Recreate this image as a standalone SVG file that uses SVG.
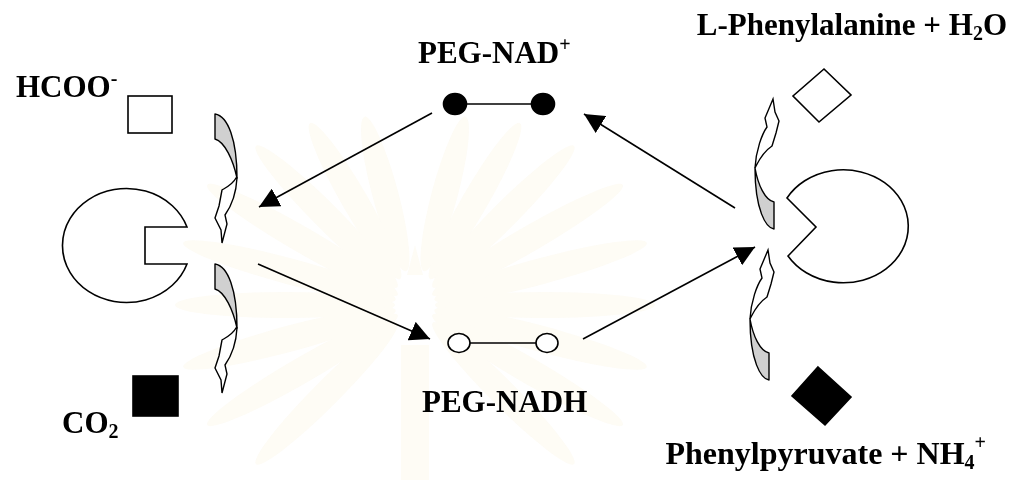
<svg xmlns="http://www.w3.org/2000/svg" xmlns:xlink="http://www.w3.org/1999/xlink" width="1019" height="480" viewBox="0 0 1019 480">
<style>
  .lbl { font-family: "Liberation Serif", "Times New Roman", serif; font-weight: bold; font-size: 31px; fill: #000; }
  .big { font-size: 32px; }
  .sub { font-size: 20px; }
  .ln { fill: none; stroke: #000; stroke-width: 1.6; }
  .shape { fill: #fff; stroke: #000; stroke-width: 1.6; stroke-linejoin: miter; }
  .solid { fill: #000; stroke: #000; stroke-width: 1.6; }
  .gray { fill: #d0d0d0; stroke: #000; stroke-width: 1.4; stroke-linejoin: round; }
  .white { fill: #fff; stroke: #000; stroke-width: 1.4; stroke-linejoin: miter; }
  .ray { fill: #faf3de; }
</style>
<defs>
  <marker id="ah" markerUnits="userSpaceOnUse" markerWidth="20" markerHeight="20" refX="20" refY="10" orient="auto" viewBox="0 0 20 20">
    <path d="M0,0 L20,10 L0,20 Z" fill="#000"/>
  </marker>
  <g id="curvL">
    <path class="gray" d="M215,114 C228,116 237,140 237,178 C233,160 225,142 215,139 Z"/>
    <path class="white" d="M237,178 C236,196 230,208 225,215 L227,224 L222,243 L221,230 L215,218 L219,206 L222,190 C227,187 233,184 236,178 Z"/>
  </g>
  <g id="curvR">
    <path class="gray" d="M774,229 C766,228 755,210 755,168 C758,185 765,200 774,202 Z"/>
    <path class="white" d="M755,168 C756,150 762,134 767,127 L765,118 L773,99 L775,112 L779,121 L776,133 L772,146 C766,150 760,158 756,166 Z"/>
  </g>
</defs>
<rect width="1019" height="480" fill="#fff"/>
<g id="watermark" opacity="0.3">
  <g transform="translate(415,305)">
    <ellipse class="ray" cx="130" cy="0" rx="110" ry="13" transform="rotate(0)"/>
    <ellipse class="ray" cx="130" cy="0" rx="110" ry="13" transform="rotate(-15)"/>
    <ellipse class="ray" cx="130" cy="0" rx="110" ry="13" transform="rotate(-30)"/>
    <ellipse class="ray" cx="125" cy="0" rx="100" ry="13" transform="rotate(-45)"/>
    <ellipse class="ray" cx="120" cy="0" rx="90" ry="13" transform="rotate(-60)"/>
    <ellipse class="ray" cx="115" cy="0" rx="80" ry="13" transform="rotate(-75)"/>
    <ellipse class="ray" cx="115" cy="0" rx="80" ry="13" transform="rotate(-105)"/>
    <ellipse class="ray" cx="120" cy="0" rx="90" ry="13" transform="rotate(-120)"/>
    <ellipse class="ray" cx="125" cy="0" rx="100" ry="13" transform="rotate(-135)"/>
    <ellipse class="ray" cx="130" cy="0" rx="110" ry="13" transform="rotate(-150)"/>
    <ellipse class="ray" cx="130" cy="0" rx="110" ry="13" transform="rotate(-165)"/>
    <ellipse class="ray" cx="130" cy="0" rx="110" ry="13" transform="rotate(180)"/>
    <ellipse class="ray" cx="130" cy="0" rx="110" ry="13" transform="rotate(15)"/>
    <ellipse class="ray" cx="130" cy="0" rx="110" ry="13" transform="rotate(30)"/>
    <ellipse class="ray" cx="125" cy="0" rx="100" ry="13" transform="rotate(45)"/>
    <ellipse class="ray" cx="125" cy="0" rx="100" ry="13" transform="rotate(135)"/>
    <ellipse class="ray" cx="130" cy="0" rx="110" ry="13" transform="rotate(150)"/>
    <ellipse class="ray" cx="130" cy="0" rx="110" ry="13" transform="rotate(165)"/>
    <path class="ray" d="M-8,-30 L0,-60 L8,-30 Z"/>
    <rect class="ray" x="-14" y="40" width="28" height="135"/>
  </g>
</g>

<g id="connectors">
  <line class="ln" x1="432" y1="113" x2="259" y2="207" marker-end="url(#ah)"/>
  <line class="ln" x1="258" y1="264" x2="430" y2="339" marker-end="url(#ah)"/>
  <line class="ln" x1="583" y1="339" x2="755" y2="247" marker-end="url(#ah)"/>
  <line class="ln" x1="735" y1="208" x2="584" y2="114" marker-end="url(#ah)"/>
</g>

<g id="enzyme-left">
  <path class="shape" d="M187,227 A64,57 0 1 0 187,264 L145,264 L145,227 Z"/>
</g>
<g id="enzyme-right">
  <path class="shape" d="M787,198 L816,227 L788,256 A65,56.5 0 1 0 787,198 Z"/>
</g>

<g id="curved-arrow-left-top"><use xlink:href="#curvL" href="#curvL"/></g>
<g id="curved-arrow-left-bottom"><use xlink:href="#curvL" href="#curvL" transform="translate(0,150)"/></g>
<g id="curved-arrow-right-top"><use xlink:href="#curvR" href="#curvR"/></g>
<g id="curved-arrow-right-bottom"><use xlink:href="#curvR" href="#curvR" transform="translate(-5,151)"/></g>

<g id="hcoo">
  <rect class="shape" x="128" y="96" width="44" height="37"/>
  <text class="lbl" x="16" y="97">HCOO<tspan class="sub" dy="-12">-</tspan></text>
</g>
<g id="co2">
  <rect class="solid" x="133" y="376" width="45" height="40"/>
  <text class="lbl" x="62" y="433">CO<tspan class="sub" dy="5">2</tspan></text>
</g>
<g id="phenylalanine">
  <polygon class="shape" points="824,69 851,95 819,122 793,96"/>
  <text class="lbl" x="1007" y="35" text-anchor="end">L-Phenylalanine + H<tspan class="sub" dy="5">2</tspan><tspan dy="-5">O</tspan></text>
</g>
<g id="phenylpyruvate">
  <polygon class="solid" points="818,367 851,397 825,425 792,396"/>
  <text class="lbl big" x="986" y="464" text-anchor="end">Phenylpyruvate + NH<tspan class="sub" dy="5">4</tspan><tspan class="sub" dy="-20">+</tspan></text>
</g>
<g id="peg-nad">
  <line class="ln" x1="455" y1="104" x2="543" y2="104"/>
  <ellipse class="solid" cx="455" cy="104" rx="11.5" ry="10.5"/>
  <ellipse class="solid" cx="543" cy="104" rx="11.5" ry="10.5"/>
  <text class="lbl" x="418" y="63">PEG-NAD<tspan class="sub" dy="-12">+</tspan></text>
</g>
<g id="peg-nadh">
  <line class="ln" x1="459" y1="343" x2="547" y2="343"/>
  <ellipse class="shape" cx="459" cy="343" rx="11" ry="9.5"/>
  <ellipse class="shape" cx="547" cy="343" rx="11" ry="9.5"/>
  <text class="lbl" x="422" y="412">PEG-NADH</text>
</g>
</svg>
